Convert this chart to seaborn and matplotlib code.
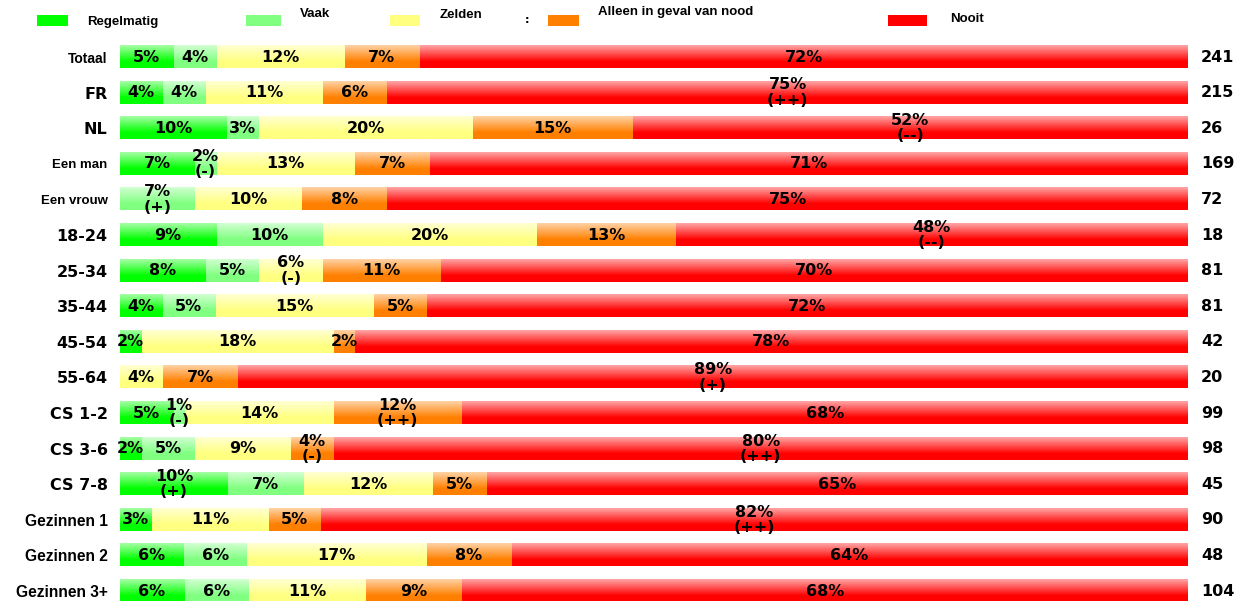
import numpy as np
import pandas as pd
import matplotlib
matplotlib.use('Agg')
import matplotlib.pyplot as plt
import seaborn as sns
from matplotlib.colors import to_rgb
from matplotlib.patches import Rectangle

# -------------------------- data --------------------------
groups = ['Totaal', 'FR', 'NL', 'Een man', 'Een vrouw', '18-24', '25-34', '35-44',
          '45-54', '55-64', 'CS 1-2', 'CS 3-6', 'CS 7-8', 'Gezinnen 1', 'Gezinnen 2', 'Gezinnen 3+']
answers = ['Regelmatig', 'Vaak', 'Zelden', 'Alleen in geval van nood', 'Nooit']

regelmatig = [5, 4, 10, 7, 0, 9, 8, 4, 2, 0, 5, 2, 10, 3, 6, 6]
vaak = [4, 4, 3, 2, 7, 10, 5, 5, 0, 0, 1, 5, 7, 0, 6, 6]
zelden = [12, 11, 20, 13, 10, 20, 6, 15, 18, 4, 14, 9, 12, 11, 17, 11]
nood = [7, 6, 15, 7, 8, 13, 11, 5, 2, 7, 12, 4, 5, 5, 8, 9]
nooit = [72, 75, 52, 71, 75, 48, 70, 72, 78, 89, 68, 80, 65, 82, 64, 68]

# significantie-markeringen
sig_regelmatig = ['', '', '', '', '', '', '', '', '', '', '', '', '(+)', '', '', '']
sig_vaak = ['', '', '', '(-)', '(+)', '', '', '', '', '', '(-)', '', '', '', '', '']
sig_zelden = ['', '', '', '', '', '', '(-)', '', '', '', '', '', '', '', '', '']
sig_nood = ['', '', '', '', '', '', '', '', '', '', '(++)', '(-)', '', '', '', '']
sig_nooit = ['', '(++)', '(--)', '', '', '(--)', '', '', '', '(+)', '', '(++)', '', '(++)', '', '']

n_resp = [241, 215, 26, 169, 72, 18, 81, 81, 42, 20, 99, 98, 45, 90, 48, 104]

colors = ['#00ff00', '#80ff80', '#ffff80', '#ff8000', '#ff0000']

# -------------------------- prep --------------------------
values = np.array([regelmatig, vaak, zelden, nood, nooit], dtype=float)
sigs = [sig_regelmatig, sig_vaak, sig_zelden, sig_nood, sig_nooit]
shares = values / values.sum(axis=0) * 100   # elke balk loopt tot 100
cum = shares.cumsum(axis=0)

df = pd.DataFrame({'groep': groups})
for k, a in enumerate(answers):
    df[a] = cum[k]


def gradient(color, n=64):
    c = np.array(to_rgb(color))
    t = np.linspace(0, 1, n)[:, None]
    w = np.clip(0.65 * (1 - t / 0.72), 0, 1)
    rgb = c * (1 - w) + w
    return rgb[:, None, :]


# -------------------------- plot --------------------------
sns.set_style('white', {'text.color': 'black', 'ytick.color': 'black'})
W, H = 1249, 601
fig = plt.figure(figsize=(W / 100, H / 100), dpi=100)
ax = fig.add_axes([120 / W, 0, 1068 / W, 1 - 39.2 / H])

# gestapelde balken: cumulatief, van achter naar voren
for k in range(4, -1, -1):
    sns.barplot(data=df, x=answers[k], y='groep', order=groups, orient='h',
                color=colors[k], width=0.62, saturation=1, errorbar=None, ax=ax)

# kleurverloop per balk
n_groups = len(groups)
for j, p in enumerate(list(ax.patches)):
    level = j // n_groups
    k = 4 - level
    x0, y0, w, h = p.get_x(), p.get_y(), p.get_width(), p.get_height()
    p.set_visible(False)
    if w <= 0:
        continue
    ax.imshow(gradient(colors[k]), extent=(x0, x0 + w, y0 + h, y0), aspect='auto',
              interpolation='bilinear', zorder=2 + level * 0.1)

ax.set_xlim(0, 100)
ax.set_ylim(15.28, -0.5)

# labels in de balken
for i in range(n_groups):
    for k in range(5):
        v = values[k, i]
        if v <= 0:
            continue
        txt = f'{int(v)}%'
        if sigs[k][i]:
            txt += '\n' + sigs[k][i]
        xc = cum[k, i] - shares[k, i] / 2
        ax.text(xc, i, txt, ha='center', va='center', fontsize=11.5, fontweight='bold',
                family='DejaVu Sans', color='black', linespacing=1.02,
                multialignment='center', zorder=5)
    ax.text(101.2, i, str(n_resp[i]), ha='left', va='center', fontsize=11.5,
            fontweight='bold', family='DejaVu Sans', color='black', clip_on=False)

# as-opmaak
ax.set_xlabel('')
ax.set_ylabel('')
ax.set_xticks([])
ax.set_yticks(range(n_groups))
ax.set_yticklabels(groups)
ax.tick_params(axis='y', length=0, pad=9, labelcolor='black')
for s in ax.spines.values():
    s.set_visible(False)
arial_rows = {'Totaal': 10, 'Een man': 9.5, 'Een vrouw': 9.5,
              'Gezinnen 1': 11.2, 'Gezinnen 2': 11.2, 'Gezinnen 3+': 11.2}
for lbl in ax.get_yticklabels():
    t = lbl.get_text()
    if t in arial_rows:
        lbl.set_family('Liberation Sans')
        lbl.set_fontsize(arial_rows[t])
    else:
        lbl.set_family('DejaVu Sans')
        lbl.set_fontsize(11.5)
    lbl.set_fontweight('bold')
    lbl.set_color('black')

# legenda bovenaan
leg_patch_x = [37, 246, 390, 548, 888]
leg_patch_w = [31, 35, 30, 31, 39]
leg_text_x = [87, 300, 440, 598, 950]
leg_text_y = [22, 14, 15.5, 12.5, 18.5]
for k in range(5):
    fig.add_artist(Rectangle((leg_patch_x[k] / W, 1 - 26 / H), leg_patch_w[k] / W, 11 / H,
                             transform=fig.transFigure, facecolor=colors[k],
                             edgecolor='none'))
    fig.text(leg_text_x[k] / W, 1 - leg_text_y[k] / H, answers[k], ha='left', va='center',
             fontsize=9.5, fontweight='bold', family='Liberation Sans', color='black')
fig.text(525 / W, 1 - 20 / H, ':', ha='left', va='center', fontsize=8,
         fontweight='bold', color='black')

fig.savefig('out.png', dpi=100, facecolor='white')
